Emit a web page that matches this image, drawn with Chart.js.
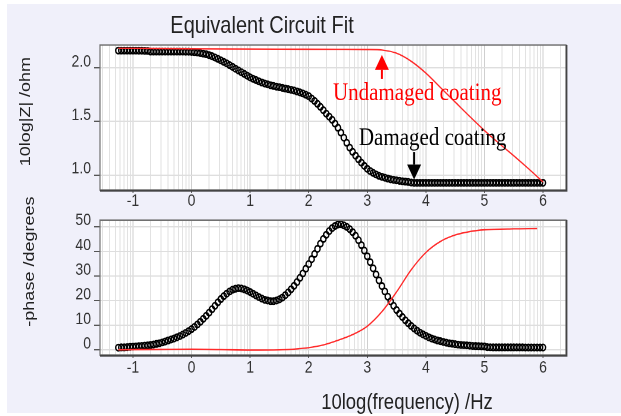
<!DOCTYPE html>
<html>
<head>
<meta charset="utf-8">
<script src="https://cdn.jsdelivr.net/npm/chart.js@4.4.1/dist/chart.umd.min.js"></script>
<style>
  html, body { margin: 0; padding: 0; background: #fff; }
  body { width: 621px; height: 416px; overflow: hidden; position: relative; }
  #bg { position: absolute; left: 7px; top: 4px; width: 614px; height: 409px; background: #f0f0fa; }
  #stage { position: absolute; left: 0; top: 0; width: 621px; height: 347px; transform: scaleY(1.2); transform-origin: 0 0;
           font-family: "Liberation Sans", Arial, sans-serif; color: #222; }
  .txt { position: absolute; white-space: nowrap; transform: translate(-50%, -50%); }
  .rot { transform: translate(-50%, -50%) rotate(-90deg); }
  canvas { position: absolute; left: 0; }
</style>
</head>
<body>
<div id="bg"></div>
<div id="stage">
  <div class="txt" style="left:262px; top:20.5px; font-size:20px;">Equivalent Circuit Fit</div>
  <div class="txt rot" style="left:24px; top:92.5px; font-size:15px;">10log|Z| /ohm</div>
  <div class="txt rot" style="left:28px; top:218px; font-size:15px;">-phase /degrees</div>
  <div class="txt" style="left:407px; top:335px; font-size:18.5px;">10log(frequency) /Hz</div>
  <canvas id="zChart" width="621" height="176" style="top:0"></canvas>
  <canvas id="phChart" width="621" height="175" style="top:172px"></canvas>
</div>
<script>
// measured points, x = 10log(frequency)
const logF = [
  -1.25, -1.2, -1.15, -1.1, -1.05,
  -1, -0.95, -0.9, -0.85, -0.8, -0.75, -0.7, -0.65, -0.6, -0.55, -0.5, -0.45, -0.4, -0.35, -0.3, -0.25, -0.2, -0.15, -0.1, -0.05,
  0, 0.05, 0.1, 0.15, 0.2, 0.25, 0.3, 0.35, 0.4, 0.45, 0.5, 0.55, 0.6, 0.65, 0.7, 0.75, 0.8, 0.85, 0.9, 0.95,
  1, 1.05, 1.1, 1.15, 1.2, 1.25, 1.3, 1.35, 1.4, 1.45, 1.5, 1.55, 1.6, 1.65, 1.7, 1.75, 1.8, 1.85, 1.9, 1.95,
  2, 2.05, 2.1, 2.15, 2.2, 2.25, 2.3, 2.35, 2.4, 2.45, 2.5, 2.55, 2.6, 2.65, 2.7, 2.75, 2.8, 2.85, 2.9, 2.95,
  3, 3.05, 3.1, 3.15, 3.2, 3.25, 3.3, 3.35, 3.4, 3.45, 3.5, 3.55, 3.6, 3.65, 3.7, 3.75, 3.8, 3.85, 3.9, 3.95,
  4, 4.05, 4.1, 4.15, 4.2, 4.25, 4.3, 4.35, 4.4, 4.45, 4.5, 4.55, 4.6, 4.65, 4.7, 4.75, 4.8, 4.85, 4.9, 4.95,
  5, 5.05, 5.1, 5.15, 5.2, 5.25, 5.3, 5.35, 5.4, 5.45, 5.5, 5.55, 5.6, 5.65, 5.7, 5.75, 5.8, 5.85, 5.9, 5.95,
  6
];
// damaged coating, 10log|Z|
const zDamaged = [
  2.160, 2.160, 2.160, 2.160, 2.160,
  2.160, 2.160, 2.159, 2.159, 2.158, 2.157, 2.150, 2.150, 2.150, 2.150, 2.150, 2.150, 2.150, 2.150, 2.150, 2.150, 2.150, 2.150, 2.149, 2.149,
  2.148, 2.146, 2.142, 2.137, 2.132, 2.126, 2.118, 2.107, 2.095, 2.082, 2.068, 2.054, 2.040, 2.024, 2.008, 1.991, 1.975, 1.958, 1.942, 1.926,
  1.910, 1.897, 1.885, 1.873, 1.862, 1.853, 1.845, 1.837, 1.830, 1.824, 1.818, 1.812, 1.806, 1.800, 1.794, 1.787, 1.779, 1.770, 1.760, 1.748,
  1.735, 1.713, 1.690, 1.663, 1.635, 1.604, 1.572, 1.544, 1.515, 1.479, 1.440, 1.395, 1.348, 1.300, 1.255, 1.216, 1.180, 1.146, 1.115, 1.085,
  1.058, 1.037, 1.020, 1.005, 0.992, 0.983, 0.975, 0.967, 0.960, 0.955, 0.950, 0.946, 0.942, 0.938, 0.935, 0.930, 0.927, 0.927, 0.927, 0.927,
  0.927, 0.927, 0.927, 0.927, 0.927, 0.927, 0.927, 0.927, 0.927, 0.927, 0.927, 0.927, 0.927, 0.927, 0.927, 0.927, 0.927, 0.927, 0.927, 0.927,
  0.927, 0.927, 0.927, 0.927, 0.927, 0.927, 0.927, 0.927, 0.927, 0.927, 0.927, 0.927, 0.927, 0.927, 0.927, 0.927, 0.927, 0.927, 0.927, 0.927,
  0.927
];
// damaged coating, -phase
const phDamaged = [
  0.9, 1.0, 1.0, 1.1, 1.2,
  1.3, 1.4, 1.5, 1.6, 1.7, 1.8, 2.0, 2.2, 2.4, 2.7, 3.0, 3.4, 3.8, 4.2, 4.6, 5.1, 5.6, 6.2, 6.9, 7.6,
  8.4, 9.3, 10.3, 11.4, 12.6, 13.8, 15.1, 16.5, 17.9, 19.3, 20.6, 21.8, 22.8, 23.7, 24.4, 24.8, 25.0, 24.9, 24.6, 24.1,
  23.5, 22.8, 22.1, 21.4, 20.8, 20.3, 20.0, 19.8, 19.8, 20.0, 20.5, 21.2, 22.2, 23.3, 24.6, 26.0, 27.5, 29.2, 31.0, 32.9,
  34.8, 36.8, 38.9, 41.0, 43.1, 45.0, 46.7, 48.2, 49.4, 50.3, 50.9, 51.0, 50.5, 49.9, 49.0, 47.8, 46.3, 44.5, 42.5, 40.3,
  38.0, 35.6, 33.1, 30.6, 28.2, 25.9, 23.7, 21.6, 19.7, 17.9, 16.2, 14.7, 13.3, 12.0, 10.8, 9.7, 8.7, 7.8, 7.0, 6.3,
  5.7, 5.1, 4.6, 4.2, 3.8, 3.5, 3.2, 2.9, 2.7, 2.5, 2.3, 2.15, 2.0, 1.9, 1.8, 1.7, 1.6, 1.55, 1.5, 1.45,
  1.4, 1.1, 1.05, 1.0, 1.0, 1.0, 1.0, 1.0, 1.0, 1.0, 1.0, 1.0, 1.0, 1.0, 0.95, 0.95, 0.95, 0.95, 0.95, 0.95,
  0.95
];
// undamaged coating fit (red lines)
const fitZx = [-1.25, -0.5, 0.5, 1.5, 2.5, 3, 3.25, 3.5, 3.75, 4, 4.25, 4.5, 4.75, 5, 5.25, 5.5, 5.75, 6];
const fitZ  = [2.180, 2.178, 2.175, 2.173, 2.172, 2.170, 2.165, 2.135, 2.060, 1.950, 1.815, 1.680, 1.545, 1.415, 1.295, 1.180, 1.060, 0.935];
const fitPhx = [-1.25, -0.5, 0, 0.5, 1, 1.5, 1.75, 2, 2.25, 2.5, 2.75, 3, 3.25, 3.5, 3.75, 4, 4.25, 4.5, 4.75, 5, 5.5, 5.9];
const fitPh  = [0.0, 0.2, 0.3, 0.1, -0.1, 0.0, 0.3, 0.9, 2.0, 3.9, 6.2, 9.6, 15.5, 23.5, 32.5, 39.5, 44.0, 46.6, 48.0, 48.7, 49.1, 49.2];

// axes
const X_MIN = -1.563, X_MAX = 6.393;
const decades = [-2, -1, 0, 1, 2, 3, 4, 5, 6];
const gridSteps = [1, 2, 3, 4, 5, 6, 7, 8, 9];
const zTicks = [1.0, 1.5, 2.0];
const phTicks = [0, 10, 20, 30, 40, 50];

const FONT = '"Liberation Sans", Arial, sans-serif';
const RED = '#ff2a2a';

const gridTicks = [];
decades.forEach(n => gridSteps.forEach(k => {
  const v = n + Math.log10(k);
  if (v > X_MIN && v < X_MAX) gridTicks.push(v);
}));
const isMajor = t => t && Number.isInteger(t.value);

const pts = (xs, ys) => xs.map((x, i) => ({ x: x, y: ys[i] }));

function xAxis(pad, h) {
  return {
    type: 'linear', min: X_MIN, max: X_MAX,
    afterBuildTicks: s => { s.ticks = gridTicks.map(v => ({ value: v })); },
    afterFit: s => { s.height = h; },
    ticks: {
      autoSkip: false, maxRotation: 0, padding: pad, color: '#333',
      font: { family: FONT, size: 14, lineHeight: 1 },
      callback: v => Number.isInteger(v) ? String(v) : ''
    },
    grid: {
      color: c => isMajor(c.tick) ? '#cfcfcf' : '#e2e2e2',
      tickColor: c => isMajor(c.tick) ? '#555' : 'rgba(0,0,0,0)',
      tickLength: 2.5
    },
    border: { display: false }
  };
}

function yAxis(min, max, list, fmt) {
  return {
    min: min, max: max,
    afterBuildTicks: s => { s.ticks = list.map(v => ({ value: v })); },
    afterFit: s => { s.width = 100; },
    ticks: { padding: 3, labelOffset: -5, color: '#333', font: { family: FONT, size: 14 }, callback: fmt },
    grid: { color: '#dedede', tickColor: '#555', tickLength: 6 },
    border: { display: false }
  };
}

const frame = {
  id: 'frame',
  beforeDraw(chart) {
    const { ctx, chartArea: a } = chart;
    ctx.save();
    ctx.fillStyle = '#fff';
    ctx.fillRect(a.left, a.top, a.right - a.left, a.bottom - a.top);
    ctx.restore();
  },
  afterDatasetsDraw(chart) {
    const { ctx, chartArea: a } = chart;
    ctx.save();
    ctx.strokeStyle = '#707070';
    ctx.lineWidth = 1.2;
    ctx.strokeRect(a.left, a.top, a.right - a.left, a.bottom - a.top);
    ctx.strokeStyle = '#444';
    ctx.lineWidth = 1.6;
    ctx.beginPath();
    ctx.moveTo(a.right + 0.6, a.top);
    ctx.lineTo(a.right + 0.6, a.bottom + 0.6);
    ctx.lineTo(a.left, a.bottom + 0.6);
    ctx.stroke();
    ctx.restore();
  }
};

function arrow(ctx, x, yTail, yTip, color) {
  const dir = yTip < yTail ? 1 : -1;
  const head = 12.5;
  ctx.strokeStyle = color;
  ctx.fillStyle = color;
  ctx.lineWidth = 2;
  ctx.beginPath();
  ctx.moveTo(x, yTail);
  ctx.lineTo(x, yTip + dir * head);
  ctx.stroke();
  ctx.beginPath();
  ctx.moveTo(x, yTip);
  ctx.lineTo(x - 7, yTip + dir * head);
  ctx.lineTo(x + 7, yTip + dir * head);
  ctx.closePath();
  ctx.fill();
}

// annotation anchors, in data units of the |Z| panel
const notes = {
  id: 'notes',
  afterDatasetsDraw(chart) {
    const { ctx, scales: { x, y } } = chart;
    ctx.save();
    arrow(ctx, x.getPixelForValue(3.25), y.getPixelForValue(1.894), y.getPixelForValue(2.119), '#ff0000');
    arrow(ctx, x.getPixelForValue(3.80), y.getPixelForValue(1.215), y.getPixelForValue(0.957), '#000');
    ctx.font = '21px "Liberation Serif", "Times New Roman", serif';
    ctx.textAlign = 'left';
    ctx.textBaseline = 'alphabetic';
    ctx.fillStyle = '#ff0000';
    ctx.fillText('Undamaged coating', x.getPixelForValue(2.414), y.getPixelForValue(1.695));
    ctx.fillStyle = '#000';
    ctx.fillText('Damaged coating', x.getPixelForValue(2.857), y.getPixelForValue(1.28));
    ctx.restore();
  }
};

const markStyle = {
  showLine: false, pointRadius: 2.6, pointBorderWidth: 1.4,
  pointBorderColor: '#000', pointBackgroundColor: 'rgba(255,255,255,0)'
};
const fitStyle = {
  showLine: true, pointRadius: 0, borderColor: RED, borderWidth: 1.2, cubicInterpolationMode: 'monotone'
};

const common = {
  responsive: false, animation: false, devicePixelRatio: 2,
  plugins: { legend: { display: false }, tooltip: { enabled: false } }
};

new Chart(document.getElementById('zChart'), {
  type: 'scatter',
  data: {
    datasets: [
      { label: 'Undamaged coating', data: pts(fitZx, fitZ), ...fitStyle },
      { label: 'Damaged coating', data: pts(logF, zDamaged), ...markStyle }
    ]
  },
  options: {
    ...common,
    layout: { padding: { top: 37.5, right: 55, bottom: 0, left: 0 } },
    scales: {
      x: xAxis(0, 17.67),
      y: yAxis(0.86, 2.2116, zTicks, v => v.toFixed(1))
    }
  },
  plugins: [frame, notes]
});

new Chart(document.getElementById('phChart'), {
  type: 'scatter',
  data: {
    datasets: [
      { label: 'Undamaged coating', data: pts(fitPhx, fitPh), ...fitStyle },
      { label: 'Damaged coating', data: pts(logF, phDamaged), ...markStyle }
    ]
  },
  options: {
    ...common,
    layout: { padding: { top: 3.83, right: 55, bottom: 17.5, left: 0 } },
    scales: {
      x: xAxis(1.5, 33.67),
      y: yAxis(-2.09, 52.66, phTicks, v => String(v))
    }
  },
  plugins: [frame]
});
</script>
</body>
</html>
